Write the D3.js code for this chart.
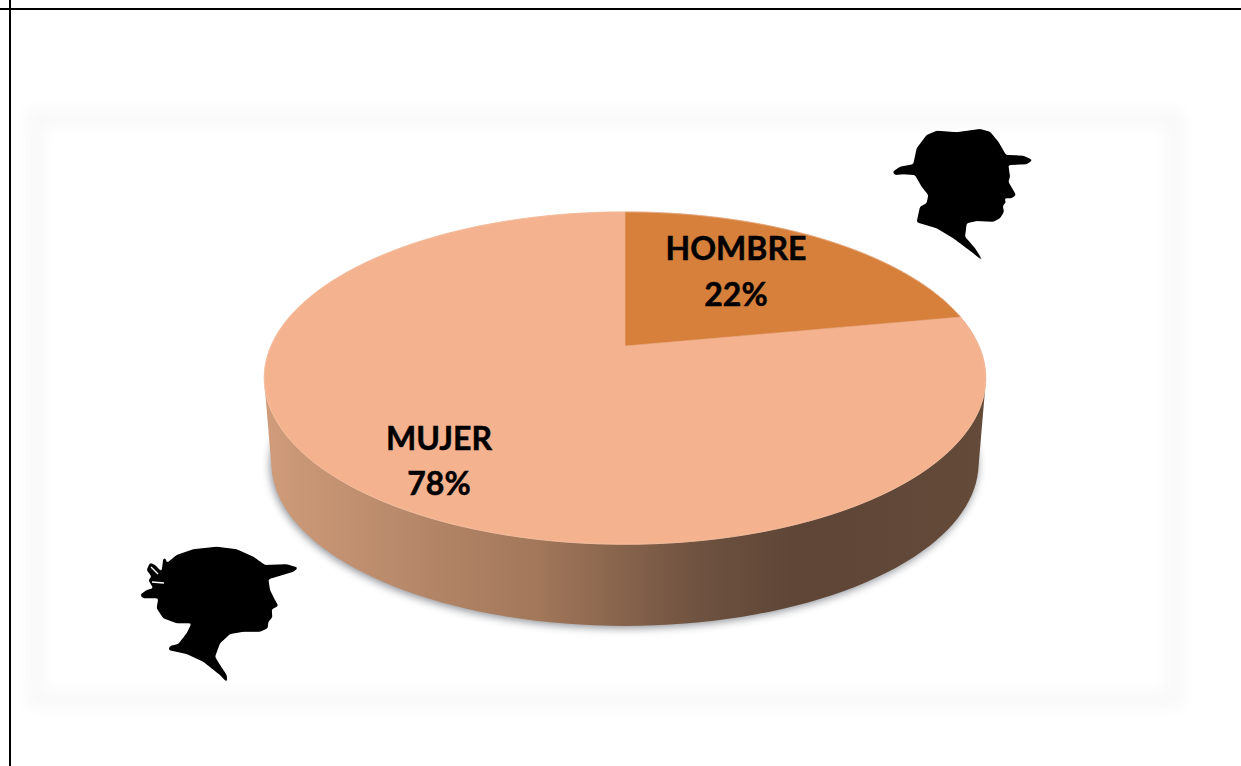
<!DOCTYPE html>
<html><head><meta charset="utf-8">
<script src="https://cdn.jsdelivr.net/npm/d3@7"></script>
<style>html,body{margin:0;padding:0;background:#fff}svg{display:block}</style>
</head><body><svg id="c" width="1241" height="766"></svg>
<script>
const categories = ["HOMBRE", "MUJER"];
const shares = [22, 78];
const labels = ["22%", "78%"];
const sliceColors = ["#D6803C", "#F4B28F"];
const wallStops = [[0, "#d09c7a"], [0.18, "#b98a6b"], [0.38, "#a2775a"], [0.6, "#6f5240"], [0.74, "#5e4536"], [1, "#644a39"]];
const womanOutline = [[140,100],[170,75],[220,58],[290,50],[350,58],[400,80],[435,105],[500,103],[535,113],[520,125],[470,140],[445,148],[450,180],[462,205],[475,228],[455,238],[457,262],[445,275],[443,295],[420,305],[370,305],[330,312],[300,340],[285,380],[300,405],[320,435],[322,458],[300,435],[250,395],[200,372],[145,360],[150,348],[175,342],[200,310],[215,280],[170,280],[130,265],[110,235],[115,205],[70,205],[60,195],[80,180],[100,175],[85,150],[95,140],[80,120],[90,98],[105,105],[125,125],[130,85],[137,85]];
const manOutline = [[38,170],[60,155],[100,148],[110,100],[140,60],[170,47],[230,52],[300,42],[330,50],[355,80],[378,120],[430,122],[458,135],[440,148],[385,150],[390,185],[385,200],[408,240],[395,250],[372,250],[378,262],[368,272],[372,290],[360,310],[340,320],[290,318],[260,325],[255,365],[285,400],[312,442],[280,415],[220,370],[170,340],[110,322],[120,275],[140,265],[145,240],[125,215],[105,180],[70,178],[45,180]];

const svg = d3.select("#c");
const defs = svg.append("defs");
defs.append("filter").attr("id","soft").attr("x","-10%").attr("y","-10%").attr("width","120%").attr("height","130%")
  .append("feGaussianBlur").attr("stdDeviation",4);
defs.append("filter").attr("id","halo").attr("x","-10%").attr("y","-10%").attr("width","120%").attr("height","120%")
  .append("feGaussianBlur").attr("stdDeviation",7);
const iconF = defs.append("filter").attr("id","icon").attr("x","-10%").attr("y","-10%").attr("width","120%").attr("height","120%");
iconF.append("feGaussianBlur").attr("stdDeviation",1.3);
iconF.append("feComponentTransfer").append("feFuncA").attr("type","linear").attr("slope",3.2).attr("intercept",-1.05);

// perspective projection of the pie's circle
const cx = 625, apexY = 346, B = 354, A = 160, k = -0.193, depth = 85, shrink = 0.98;
const project = (a, r = 1) => {
  const u = Math.sin(a) * r, v = -Math.cos(a) * r, d = 1 + k * v;
  return [cx + B * u / d, apexY + A * v / d];
};
const pie = d3.pie().sort(null).value(d => d)(shares);
const line = d3.line();
const rim = d3.range(0, 361, 2).map(a => project(a * Math.PI / 180));
const rimMidY = d3.mean(d3.extent(rim, p => p[1]));
const floor = rim.map(p => [cx + (p[0] - cx) * shrink, rimMidY + depth + (p[1] - rimMidY) * shrink]);
const hull = d3.polygonHull(rim.concat(floor));

// faint panel halo
svg.append("rect").attr("x",35).attr("y",118).attr("width",1140).attr("height",582)
  .attr("fill","none").attr("stroke","#f8f8f8").attr("stroke-width",16).attr("filter","url(#halo)");

// page frame
svg.append("line").attr("x1",0).attr("x2",1241).attr("y1",9).attr("y2",9).attr("stroke","#000").attr("stroke-width",2);
svg.append("line").attr("x1",10).attr("x2",10).attr("y1",0).attr("y2",766).attr("stroke","#000").attr("stroke-width",2);

// drop shadow and wall
svg.append("path").attr("d", line(floor) + "Z").attr("fill","#4c5058").attr("opacity",.65)
  .attr("transform","translate(-1,2)").attr("filter","url(#soft)");
const xs = d3.extent(rim, p => p[0]);
const grad = defs.append("linearGradient").attr("id","wall").attr("gradientUnits","userSpaceOnUse")
  .attr("x1",xs[0]).attr("x2",xs[1]).attr("y1",0).attr("y2",0);
wallStops.forEach(s => grad.append("stop").attr("offset",s[0]).attr("stop-color",s[1]));
svg.append("path").attr("d", line(hull) + "Z").attr("fill","url(#wall)");

// top face
const sliceG = svg.append("g");
sliceG.selectAll("path").data(pie).join("path")
  .attr("d", d => {
    const n = Math.ceil((d.endAngle - d.startAngle) * 60);
    const pts = d3.range(n + 1).map(i => project(d.startAngle + (d.endAngle - d.startAngle) * i / n));
    return line([project(0, 0), ...pts]) + "Z";
  })
  .attr("fill", (d, i) => sliceColors[i])
  .attr("stroke", (d, i) => sliceColors[i]).attr("stroke-width", .6);
svg.append("path").attr("d", line(rim) + "Z").attr("fill","none").attr("stroke","#f9c9ad").attr("stroke-width",1).attr("opacity",.6);

// labels
const labelPos = [[736, 260, 306], [439, 450, 495]];
const text = svg.append("g").attr("font-family","Lato, 'Open Sans', sans-serif").attr("font-weight",700)
  .attr("font-size",32).attr("fill","#000").attr("stroke","#000").attr("stroke-width",.5).attr("text-anchor","middle");
categories.forEach((c, i) => {
  text.append("text").attr("x",labelPos[i][0]).attr("y",labelPos[i][1]).text(c);
  text.append("text").attr("x",labelPos[i][0]).attr("y",labelPos[i][2]).text(labels[i]);
});

// silhouettes
const outline = d3.line().x(d => d[0] / 3).y(d => d[1] / 3).curve(d3.curveLinearClosed);
const woman = svg.append("g").attr("transform","translate(120,530)");
woman.append("path").attr("d", outline(womanOutline)).attr("fill","#000").attr("filter","url(#icon)");
woman.append("path").attr("d","M31,37L38,44M32,52L44,53").attr("stroke","#fff").attr("stroke-width",1.4).attr("fill","none");
svg.append("g").attr("transform","translate(880,115)")
  .append("path").attr("d", outline(manOutline)).attr("fill","#000").attr("filter","url(#icon)");
</script></body></html>
